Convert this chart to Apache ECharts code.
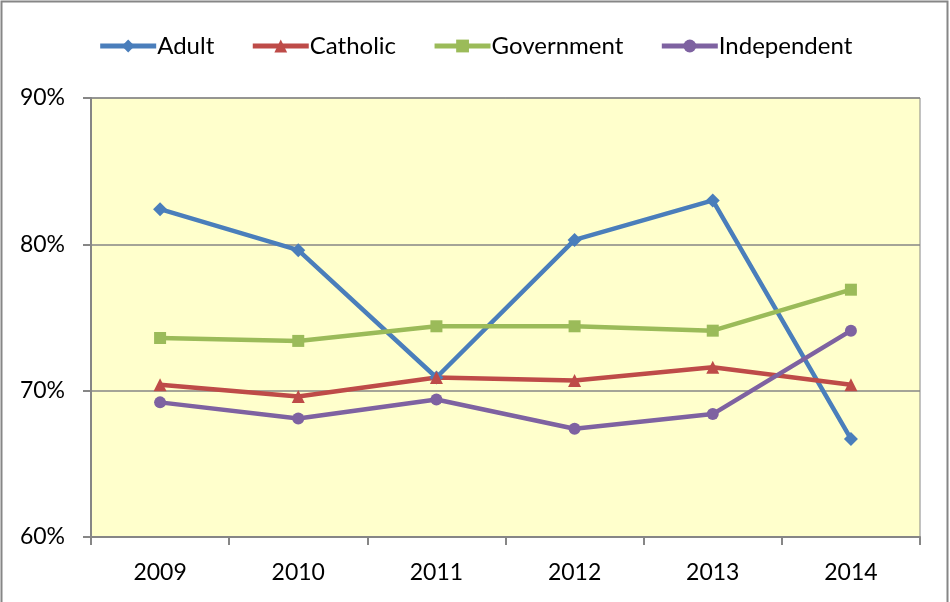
<!DOCTYPE html>
<html><head><meta charset="utf-8">
<script src="https://cdn.jsdelivr.net/npm/echarts@6/dist/echarts.min.js"></script>
<style>html,body{margin:0;padding:0;background:#fff;}#c{width:950px;height:602px;}</style>
</head><body><div id="c"></div>
<script>
const years = ['2009','2010','2011','2012','2013','2014'];
const adult = [82.4, 79.6, 70.9, 80.3, 83.0, 66.7];
const catholic = [70.4, 69.6, 70.9, 70.7, 71.6, 70.4];
const government = [73.6, 73.4, 74.4, 74.4, 74.1, 76.9];
const independent = [69.2, 68.1, 69.4, 67.4, 68.4, 74.1];

const chart = echarts.init(document.getElementById('c'), null, {renderer:'canvas'});
const font = 'Lato, Liberation Sans, Arial, sans-serif';
function s(name, data, color, symbol, size){
  return {name, type:'line', data, symbol, symbolSize:size,
    lineStyle:{color, width:4.5}, itemStyle:{color}, color, showSymbol:true};
}
chart.setOption({
  animation:false,
  textStyle:{fontFamily:font},
  graphic:[{type:'rect', shape:{x:1.5,y:1.5,width:946,height:620}, style:{fill:null, stroke:'#868686', lineWidth:2}, silent:true, z:-1}],
  legend:{top:29, left:'center', itemGap:36, itemWidth:56, itemHeight:16,
    lineStyle:{width:5},
    textStyle:{fontSize:24, color:'#000', fontFamily:font, padding:[0,0,0,-4]},
    data:['Adult','Catholic','Government','Independent']},
  grid:{left:91, top:98, right:30, bottom:65, show:true, backgroundColor:'#FFFFCC', borderColor:'#868686', borderWidth:1},
  xAxis:{type:'category', data:years, boundaryGap:true,
    axisLine:{lineStyle:{color:'#868686', width:2}},
    axisTick:{show:true, length:8, lineStyle:{color:'#868686', width:2}, alignWithLabel:false},
    axisLabel:{color:'#000', fontSize:23, margin:24, fontFamily:font}},
  yAxis:{type:'value', min:60, max:90, interval:10,
    axisLine:{show:true, lineStyle:{color:'#868686', width:2}},
    axisTick:{show:true, length:8, lineStyle:{color:'#868686', width:2}},
    splitLine:{lineStyle:{color:'#868686', width:1.5}},
    axisLabel:{color:'#000', fontSize:23, margin:26, formatter:v=>v+'%', fontFamily:font}},
  series:[
    s('Adult', adult, '#4A7EBB', 'diamond', 14),
    s('Catholic', catholic, '#BE4B48', 'triangle', 13),
    s('Government', government, '#9BBB59', 'rect', 12),
    s('Independent', independent, '#7E62A1', 'circle', 12)
  ]
});
</script></body></html>
